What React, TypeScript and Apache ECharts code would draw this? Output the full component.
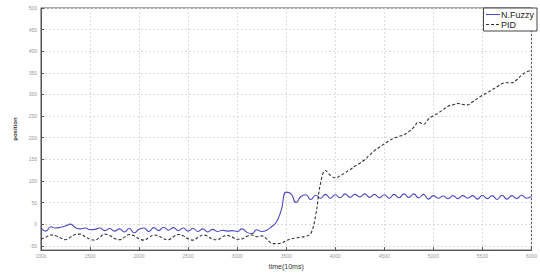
import React, { useEffect, useRef } from "react";
import * as echarts from "echarts";

const T_START = 1000;
const T_STEP = 50;

const fuzzy = [
  -9, -16, -6, -9, -7, -4, 0, -8, -11, -9,
  -13, -12, -9, -15, -10, -16, -11, -18, -10, -20,
  -12, -9, -17, -8, -15, -7, -14, -8, -15, -9,
  -16, -10, -17, -11, -18, -12, -17, -14, -16, -15,
  -17, -11, -19, -22, -13, -17, -14, -6, 5, 33,
  74, 70, 50, 64, 68, 57, 67, 60, 69, 60,
  68, 61, 70, 62, 69, 63, 70, 62, 69, 61,
  68, 60, 69, 61, 70, 62, 70, 61, 69, 58,
  66, 60, 65, 59, 66, 59, 66, 60, 66, 58,
  67, 59, 66, 57, 67, 58, 66, 59, 67, 60,
  64,
];

const pid = [
  -35, -30, -25, -27, -32, -36, -30, -24, -23, -29,
  -35, -37, -30, -23, -26, -33, -36, -30, -24, -27,
  -34, -37, -31, -25, -27, -34, -36, -29, -24, -27,
  -34, -37, -31, -25, -28, -35, -36, -29, -26, -30,
  -35, -34, -28, -25, -29, -27, -34, -44, -45, -44,
  -38, -34, -32, -30, -28, -22, 20, 95, 124, 113,
  107, 112, 119, 126, 134, 141, 149, 160, 170, 178,
  186, 193, 199, 203, 207, 214, 224, 236, 231, 243,
  251, 257, 265, 273, 276, 279, 277, 276, 283, 291,
  298, 304, 311, 318, 325, 327, 327, 334, 345, 352,
  356,
];

const yTicks = [-50, 0, 50, 100, 150, 200, 250, 300, 350, 400, 450, 500];
const seriesNames = ["N.Fuzzy", "PID"];

export default function App() {
  const ref = useRef<HTMLDivElement>(null);
  useEffect(() => {
    if (!ref.current) return;
    const chart = echarts.init(ref.current, null, { renderer: "svg" });
    const time = fuzzy.map((_, i) => T_START + T_STEP * i);
    const grid = { color: "#dcdcdc", type: [2, 2] as any, width: 1 };
    const font = "Arial, Liberation Sans";
    chart.setOption({
      animation: false,
      backgroundColor: "#fff",
      grid: {
        left: 41,
        right: 1,
        top: 8,
        bottom: 17,
        show: true,
        borderColor: "#555",
        borderWidth: 1,
        backgroundColor: "transparent",
      },
      legend: {
        orient: "vertical",
        right: 3,
        top: 8,
        backgroundColor: "#fff",
        borderColor: "#444",
        borderWidth: 1,
        borderRadius: 0,
        padding: [2, 3, 2, 2],
        itemGap: 1,
        itemWidth: 14,
        itemHeight: 8,
        itemStyle: { opacity: 0 },
        lineStyle: { width: 1 },
        textStyle: { fontSize: 9, fontFamily: font, color: "#222", padding: [0, 0, 0, -4] },
        data: seriesNames,
      },
      xAxis: {
        type: "value",
        min: 1000,
        max: 6000,
        interval: 500,
        name: "time(10ms)",
        nameLocation: "middle",
        nameGap: 10,
        nameTextStyle: { fontSize: 7, color: "#333", fontFamily: font },
        axisLine: { show: true, onZero: false, lineStyle: { color: "#555" } },
        axisTick: { show: true, inside: true, length: 3, lineStyle: { color: "#555" } },
        axisLabel: {
          fontSize: 5,
          color: "#999",
          margin: 3,
          fontFamily: font,
          formatter: (v: number) => String(v),
        },
        splitLine: { show: true, lineStyle: grid },
      },
      yAxis: {
        type: "value",
        min: -60,
        max: 500,
        name: "position",
        nameLocation: "middle",
        nameGap: 22,
        nameRotate: 90,
        nameTextStyle: { fontSize: 6, color: "#333", fontWeight: "bold", fontFamily: font },
        axisLine: { show: true, onZero: false, lineStyle: { color: "#555" } },
        axisTick: { show: true, inside: true, length: 3, customValues: yTicks, lineStyle: { color: "#555" } },
        axisLabel: {
          fontSize: 5,
          color: "#999",
          margin: 4,
          customValues: yTicks,
          fontFamily: font,
          formatter: (v: number) => String(v),
        },
        splitLine: { show: true, lineStyle: grid },
      },
      series: [
        {
          name: seriesNames[0],
          type: "line",
          data: time.map((t, i) => [t, fuzzy[i]]),
          smooth: 0.5,
          showSymbol: false,
          symbol: "none",
          lineStyle: { color: "#4b4bc6", width: 1.1 },
          itemStyle: { color: "#4b4bc6" },
        },
        {
          name: seriesNames[1],
          type: "line",
          data: time.map((t, i) => [t, pid[i]]),
          smooth: 0.4,
          showSymbol: false,
          symbol: "none",
          lineStyle: { color: "#333", width: 1.1, type: [3, 2] },
          itemStyle: { color: "#333" },
        },
      ],
    });
    return () => chart.dispose();
  }, []);
  return (
    <div
      ref={ref}
      style={{ position: "fixed", left: 0, top: 0, width: 540, height: 275, background: "#fff" }}
    />
  );
}
